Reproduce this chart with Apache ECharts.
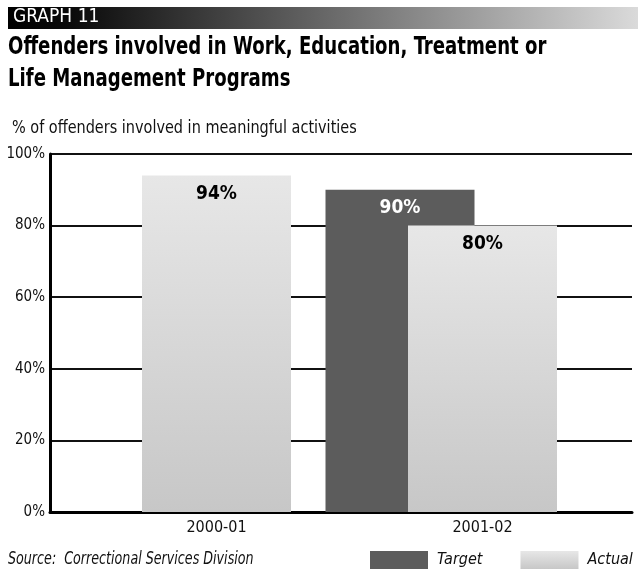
<!DOCTYPE html>
<html>
<head>
<meta charset="utf-8">
<script src="https://cdn.jsdelivr.net/npm/echarts@6/dist/echarts.min.js"></script>
<style>
  html, body { margin: 0; padding: 0; background: #fff; }
  #main { width: 638px; height: 569px; }
</style>
</head>
<body>
<div id="main"></div>
<script>
// data
var categories = ['2000-01', '2001-02'];
var targetValues = ['-', 90];
var actualValues = [94, 80];
var yMin = 0, yMax = 100, yStep = 20;

var FONT = '"Liberation Sans Narrow", "DejaVu Sans Condensed", "DejaVu Sans", sans-serif';

var chart = echarts.init(document.getElementById('main'));

var actualFill = new echarts.graphic.LinearGradient(0, 0, 0, 1, [
    { offset: 0, color: '#e7e7e7' },
    { offset: 1, color: '#c7c7c7' }
]);

var plotTop = 154, plotBottom = 57;

// condensed text helper (the original uses a narrow face)
function txt(str, x, y, font, fill, sx) {
    return {
        type: 'text', x: x, y: y, scaleX: sx, originX: 0,
        style: { text: str, fill: fill, font: font }
    };
}

var option = {
    animation: false,
    backgroundColor: '#fff',
    graphic: [{
        type: 'rect',
        shape: { x: 8, y: 7, width: 630, height: 22 },
        style: {
            fill: new echarts.graphic.LinearGradient(0, 0, 1, 0, [
                { offset: 0, color: '#000' },
                { offset: 0.1, color: '#0a0a0a' },
                { offset: 1, color: '#dadada' }
            ])
        },
        z: -1
    },
        txt('GRAPH 11', 13, 8, '19px ' + FONT, '#fff', 1.0),
        txt('Offenders involved in Work, Education, Treatment or', 8, 35, 'bold 25px ' + FONT, '#000', 0.806),
        txt('Life Management Programs', 8, 67, 'bold 25px ' + FONT, '#000', 0.806),
        txt('% of offenders involved in meaningful activities', 12, 120, '17px ' + FONT, '#111', 0.945),
        txt('Source:  Correctional Services Division', 8, 551, 'italic 17px ' + FONT, '#111', 0.83)
    ],
    legend: {
        data: ['Target', 'Actual'],
        left: 370,
        top: 551,
        width: 268,
        padding: 0,
        icon: 'rect',
        itemWidth: 58,
        itemHeight: 18,
        itemGap: 38,
        textStyle: { fontFamily: FONT, fontStyle: 'italic', fontSize: 16, color: '#111', padding: [0, 0, 0, 4] }
    },
    grid: [
        // frame: y axis, gridlines, base line
        { left: 50, right: 6, top: plotTop, bottom: plotBottom },
        // actual bars
        { left: 83.5, right: 22.5, top: plotTop, bottom: plotBottom },
        // target bars
        { left: 1, right: 105, top: plotTop, bottom: plotBottom }
    ],
    xAxis: [{
        gridIndex: 0,
        type: 'category',
        data: categories,
        axisLine: { lineStyle: { color: '#000', width: 3 } },
        axisTick: { show: false },
        axisLabel: { show: false }
    }, {
        gridIndex: 1,
        type: 'category',
        data: categories,
        axisLine: { show: false },
        axisTick: { show: false },
        axisLabel: { fontFamily: FONT, fontSize: 16, color: '#111', margin: 8 }
    }, {
        gridIndex: 2,
        type: 'category',
        data: categories,
        show: false
    }],
    yAxis: [{
        gridIndex: 0,
        type: 'value',
        min: yMin, max: yMax, interval: yStep,
        axisLine: { show: true, lineStyle: { color: '#000', width: 3 } },
        axisTick: { show: false },
        axisLabel: { formatter: '{value}%', fontFamily: FONT, fontSize: 15, color: '#111', margin: 5 },
        splitLine: { lineStyle: { color: '#111', width: 2 } }
    }, {
        gridIndex: 1, type: 'value', min: yMin, max: yMax, show: false
    }, {
        gridIndex: 2, type: 'value', min: yMin, max: yMax, show: false
    }],
    series: [{
        name: 'Target',
        type: 'bar',
        xAxisIndex: 2,
        yAxisIndex: 2,
        data: targetValues,
        barWidth: 149,
        z: 2,
        itemStyle: { color: '#5c5c5c' },
        label: {
            show: true, position: 'insideTop', distance: 9,
            formatter: '{c}%',
            fontFamily: FONT, fontWeight: 'bold', fontSize: 19, color: '#fff'
        }
    }, {
        name: 'Actual',
        type: 'bar',
        xAxisIndex: 1,
        yAxisIndex: 1,
        data: actualValues,
        barWidth: 149,
        z: 3,
        itemStyle: { color: actualFill },
        label: {
            show: true, position: 'insideTop', distance: 9,
            formatter: '{c}%',
            fontFamily: FONT, fontWeight: 'bold', fontSize: 19, color: '#000'
        }
    }]
};

chart.setOption(option);
</script>
</body>
</html>
